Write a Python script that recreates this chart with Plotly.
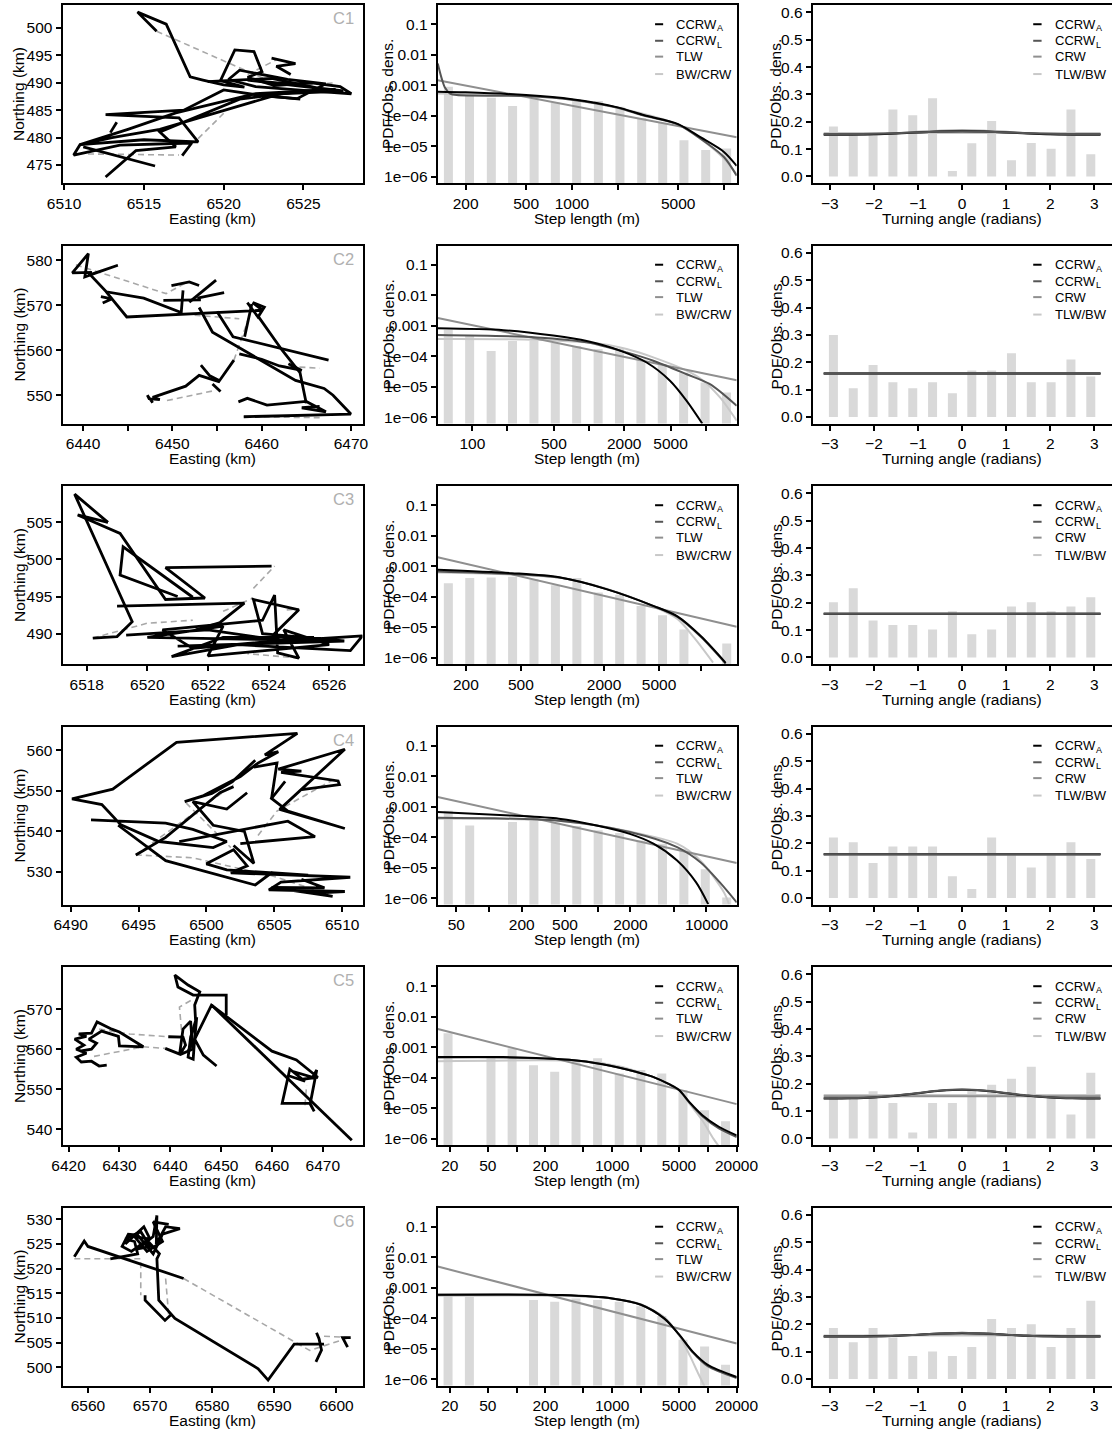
import plotly.graph_objects as go

# ---------------------------------------------------------------- styling
FONT = "Liberation Sans, Arial, Helvetica, sans-serif"
INK = "#000000"
COL_CCRW_A = "#000000"
COL_CCRW_L = "#555555"
COL_MID = "#8f8f8f"      # TLW (step panel) / CRW (angle panel)
COL_LIGHT = "#c8c8c8"    # BW/CRW (step panel) / TLW/BW (angle panel)
COL_BAR = "#d9d9d9"
COL_GAP = "#a8a8a8"
COL_TAG = "#b0b0b0"

FIG_W, FIG_H = 1112, 1435
COLS = [(62.5, 362.5), (437.7, 736.7), (812.7, 1111.5)]
TOP0, PITCH, BOX_H = 5.0, 240.5, 178.0

# ---------------------------------------------------------------- tracks (km)
C1_TRACK = [
    [(6515.8, 499.4), (6514.6, 502.9), (6516.4, 500.7), (6517.9, 491.1), (6518.7, 490.5), (6520.0, 489.6),
     (6521.3, 489.2), (6519.8, 490.4), (6520.7, 496.0), (6521.9, 495.7), (6522.4, 492.0), (6521.5, 491.0),
     (6523.2, 489.5), (6525.5, 490.0), (6527.3, 489.3), (6528.0, 488.0), (6525.0, 488.6), (6522.0, 489.3),
     (6520.3, 490.6), (6521.0, 492.3), (6524.0, 490.6), (6526.4, 489.8), (6524.6, 487.1), (6522.5, 487.6),
     (6520.0, 488.7), (6517.5, 485.0), (6512.6, 484.2), (6517.2, 483.6), (6518.4, 479.2), (6515.0, 479.6),
     (6511.0, 478.7), (6510.6, 476.8), (6513.5, 478.6), (6518.0, 479.0), (6517.4, 476.7)],
    [(6511.2, 478.3), (6515.7, 474.8)],
    [(6512.6, 472.8), (6514.5, 477.6), (6517.0, 478.3), (6516.0, 481.0), (6521.0, 487.0), (6525.0, 488.5),
     (6527.0, 488.8), (6522.0, 488.0), (6517.0, 484.5), (6514.0, 481.5), (6511.0, 478.7), (6513.0, 480.0),
     (6516.0, 481.5), (6523.0, 487.5), (6524.8, 487.0)],
    [(6519.0, 490.2), (6523.0, 490.8), (6526.0, 489.0), (6524.0, 489.8), (6521.5, 490.5), (6527.5, 488.5),
     (6523.5, 488.0)],
    [(6513.3, 482.8), (6512.9, 480.9)],
    [(6523.0, 494.5), (6524.5, 493.5), (6523.3, 493.0), (6524.2, 491.5)],
]
C1_GAPS = [
    [(6515.8, 499.4), (6520.4, 493.5), (6522.5, 490.8)],
    [(6511.5, 477.0), (6517.2, 476.8)],
    [(6518.4, 479.8), (6520.2, 485.0)],
    [(6521.5, 491.5), (6523.3, 494.2)],
    [(6525.2, 489.6), (6527.0, 490.0)],
]

C2_TRACK = [
    [(6441.0, 577.3), (6438.8, 577.2), (6440.6, 581.5), (6440.2, 576.3), (6443.9, 578.9), (6440.8, 576.8),
     (6442.6, 573.0), (6446.8, 571.6), (6451.0, 568.4), (6451.2, 573.3)],
    [(6442.6, 573.0), (6444.9, 567.4), (6460.1, 568.9), (6459.0, 570.6), (6460.3, 569.6), (6459.6, 567.4),
     (6458.4, 570.6)],
    [(6449.0, 571.1), (6453.2, 571.2)],
    [(6449.9, 574.4), (6451.9, 575.2), (6453.0, 574.4)],
    [(6451.9, 570.7), (6454.9, 575.6)],
    [(6452.8, 571.6), (6455.8, 572.8)],
    [(6442.0, 571.9), (6443.2, 571.4), (6442.2, 570.5)],
    [(6453.0, 569.5), (6454.5, 564.0), (6463.8, 553.3), (6467.0, 551.5), (6468.0, 550.0), (6470.0, 545.8),
     (6458.0, 545.2)],
    [(6455.0, 568.6), (6456.8, 563.0), (6467.5, 557.8)],
    [(6459.6, 567.6), (6462.3, 560.0), (6464.3, 555.0), (6465.0, 548.2)],
    [(6457.4, 548.5), (6458.4, 549.3), (6460.6, 547.8), (6465.0, 548.6), (6467.2, 546.3), (6464.5, 547.2),
     (6466.5, 547.5)],
    [(6458.9, 570.3), (6458.1, 563.0)],
    [(6447.8, 548.3), (6447.2, 550.0), (6447.4, 549.2), (6448.6, 549.0), (6447.8, 549.5), (6451.5, 552.0),
     (6453.0, 554.4), (6455.2, 553.0), (6456.9, 557.8)],
    [(6453.2, 556.7), (6454.2, 554.3), (6455.3, 553.2)],
    [(6454.5, 552.5), (6455.4, 550.8)],
    [(6457.5, 559.2), (6460.0, 558.0), (6462.0, 556.5), (6464.5, 555.5), (6463.0, 557.0)],
]
C2_GAPS = [
    [(6439.2, 579.0), (6449.3, 572.6), (6451.8, 575.3)],
    [(6449.4, 548.8), (6454.9, 551.1)],
    [(6456.9, 557.8), (6458.6, 567.4)],
    [(6458.0, 545.2), (6466.5, 545.0)],
    [(6462.0, 556.5), (6466.5, 556.0)],
    [(6452.5, 567.8), (6457.5, 567.0)],
]

C3_TRACK = [
    [(6518.7, 505.0), (6517.6, 508.8), (6519.5, 491.6), (6519.0, 489.6), (6518.2, 489.4)],
    [(6518.7, 505.0), (6517.7, 506.0), (6519.1, 503.5), (6520.6, 494.6), (6521.9, 494.8), (6520.6, 498.9),
     (6524.1, 499.1)],
    [(6521.5, 494.9), (6519.2, 501.7), (6519.1, 497.9), (6521.0, 495.0)],
    [(6519.0, 493.7), (6523.2, 494.1), (6522.4, 491.5), (6521.6, 490.5)],
    [(6519.3, 489.8), (6522.0, 490.5), (6524.5, 489.0), (6527.1, 489.7), (6526.7, 487.7), (6523.0, 488.5),
     (6520.8, 486.9), (6522.5, 489.5), (6525.5, 489.5), (6521.5, 488.0), (6520.5, 490.5), (6523.8, 491.8),
     (6524.2, 495.2), (6524.3, 487.4), (6525.0, 486.7), (6524.5, 490.5), (6526.0, 488.5), (6522.0, 487.0),
     (6522.5, 491.0), (6520.0, 489.5), (6524.0, 489.2), (6525.0, 493.2), (6523.5, 494.6), (6523.8, 490.0),
     (6526.5, 489.0), (6521.0, 488.3)],
]
C3_GAPS = [
    [(6518.2, 489.4), (6520.0, 491.4), (6521.5, 491.8)],
    [(6523.5, 496.1), (6524.2, 499.1)],
    [(6522.5, 493.0), (6523.5, 494.8)],
    [(6525.0, 486.7), (6523.3, 487.3)],
    [(6524.6, 493.2), (6525.0, 493.3)],
]

C4_TRACK = [
    [(6491.5, 542.8), (6497.0, 542.0), (6499.0, 540.5), (6501.5, 537.5), (6500.5, 536.0), (6496.5, 537.5),
     (6493.7, 541.6), (6492.3, 546.6), (6490.1, 548.0), (6493.1, 550.4), (6497.8, 561.9), (6506.7, 564.1),
     (6504.3, 558.8), (6505.3, 559.6), (6503.8, 556.8), (6502.5, 553.5), (6499.8, 548.8), (6498.4, 547.3),
     (6500.4, 549.3), (6501.9, 552.2), (6503.6, 557.5)],
    [(6494.8, 534.2), (6497.0, 538.5), (6501.0, 549.5), (6502.0, 551.0)],
    [(6505.8, 552.3), (6504.8, 548.1), (6506.0, 545.0), (6510.2, 540.7), (6505.4, 545.4), (6510.2, 560.2),
     (6505.3, 555.3), (6507.0, 554.8), (6505.5, 554.5), (6509.7, 552.4), (6509.8, 551.5), (6506.9, 550.2)],
    [(6504.8, 548.1), (6505.2, 556.8), (6503.5, 555.8)],
    [(6502.5, 537.0), (6508.0, 538.7), (6506.0, 542.5), (6498.0, 537.5)],
    [(6493.5, 541.5), (6497.0, 532.8), (6503.6, 526.8), (6504.8, 529.8), (6507.5, 529.2), (6501.5, 530.5),
     (6500.0, 532.0), (6502.0, 535.5), (6503.0, 531.5), (6501.8, 529.8), (6510.6, 528.7), (6505.5, 527.5),
     (6504.6, 525.6), (6510.2, 525.2), (6508.0, 524.8), (6509.3, 524.0), (6504.8, 526.2), (6508.7, 526.1),
     (6507.0, 528.2)],
    [(6502.0, 536.5), (6503.5, 532.1), (6502.8, 540.0), (6500.5, 541.5), (6499.0, 547.3), (6501.5, 545.5),
     (6503.0, 549.5)],
]
C4_GAPS = [
    [(6494.8, 534.2), (6502.0, 551.5)],
    [(6494.8, 534.2), (6499.0, 533.5), (6503.5, 530.0)],
    [(6503.8, 539.0), (6505.2, 545.0), (6509.5, 553.0)],
    [(6504.0, 530.0), (6509.0, 524.5)],
    [(6498.5, 547.0), (6501.8, 536.0)],
]

C5_TRACK = [
    [(6427.5, 556.0), (6426.0, 555.8), (6424.5, 557.0), (6422.5, 556.8), (6421.5, 558.0), (6423.5, 559.0),
     (6421.5, 560.0), (6423.0, 561.0), (6421.2, 562.5), (6423.5, 563.2), (6422.0, 563.8), (6424.5, 564.0),
     (6425.6, 566.8), (6428.5, 565.0), (6430.0, 564.3), (6434.7, 560.6), (6430.0, 560.8), (6429.8, 563.2),
     (6426.5, 564.5), (6424.0, 562.5), (6425.5, 561.5), (6424.5, 560.0), (6422.2, 559.5)],
    [(6449.1, 555.8), (6446.5, 558.5), (6444.8, 562.5), (6445.2, 568.0), (6444.0, 563.0), (6443.5, 558.0),
     (6444.5, 557.5), (6445.0, 566.5), (6444.8, 571.0), (6445.8, 574.3), (6443.5, 576.0), (6440.9, 578.5),
     (6441.5, 575.5), (6444.5, 573.5), (6451.0, 573.5), (6451.0, 568.5)],
    [(6439.6, 563.1), (6442.5, 563.0), (6443.0, 561.0), (6441.8, 558.5), (6442.5, 565.0), (6444.0, 567.0),
     (6444.4, 560.0), (6442.0, 558.7), (6439.0, 560.2)],
    [(6443.5, 559.5), (6445.0, 563.0), (6448.1, 571.0), (6460.0, 559.5), (6464.8, 557.3), (6469.0, 553.0),
     (6466.0, 552.5), (6463.5, 555.0), (6462.0, 546.5), (6467.5, 546.5), (6468.3, 544.5), (6467.5, 546.3),
     (6468.8, 554.8), (6468.0, 553.0), (6464.0, 554.5), (6466.5, 552.0), (6463.0, 553.5)],
    [(6448.1, 571.0), (6475.7, 537.3)],
]
C5_GAPS = [
    [(6425.0, 558.2), (6430.0, 559.5), (6434.7, 560.6), (6439.0, 560.2)],
    [(6426.0, 565.0), (6432.0, 563.8), (6439.6, 563.1)],
    [(6442.2, 564.8), (6441.8, 570.5), (6444.5, 572.5)],
    [(6466.5, 546.0), (6466.8, 551.0)],
]

C6_TRACK = [
    [(6563.6, 522.0), (6568.0, 523.0), (6567.5, 525.5), (6566.0, 526.0), (6568.5, 527.5), (6570.0, 524.5),
     (6568.0, 524.0), (6570.5, 526.5), (6571.1, 530.8), (6571.0, 525.0), (6572.5, 528.5), (6574.8, 528.1),
     (6572.0, 527.0), (6570.5, 523.0), (6568.0, 526.8), (6566.5, 527.0), (6565.5, 524.5), (6567.0, 523.5),
     (6569.5, 525.8), (6571.5, 523.0), (6571.1, 522.0), (6571.4, 513.6), (6574.0, 509.9), (6587.4, 499.7),
     (6589.0, 497.4), (6593.2, 504.7), (6598.0, 504.7)],
    [(6566.0, 525.0), (6569.0, 528.5), (6570.0, 526.0), (6567.5, 526.5), (6569.5, 523.5), (6572.0, 525.5),
     (6570.5, 529.5), (6573.0, 529.0)],
    [(6557.8, 522.4), (6559.4, 525.6), (6560.0, 524.5), (6575.4, 518.0)],
    [(6569.2, 514.6), (6569.2, 513.6), (6572.4, 509.5), (6573.5, 510.8)],
    [(6596.7, 501.1), (6597.6, 503.5), (6597.2, 505.8), (6596.8, 507.0)],
    [(6601.8, 504.1), (6601.0, 506.0), (6602.3, 506.0)],
]
C6_GAPS = [
    [(6557.8, 522.0), (6564.0, 522.0), (6568.5, 522.0), (6568.5, 514.6)],
    [(6575.4, 518.0), (6595.7, 503.4), (6602.0, 506.0)],
    [(6572.5, 518.0), (6573.0, 510.5)],
    [(6598.0, 506.3), (6602.3, 506.0)],
]

TRACK_NAMES = ["C1", "C2", "C3", "C4", "C5", "C6"]
TRACKS = [C1_TRACK, C2_TRACK, C3_TRACK, C4_TRACK, C5_TRACK, C6_TRACK]
GAPS = [C1_GAPS, C2_GAPS, C3_GAPS, C4_GAPS, C5_GAPS, C6_GAPS]
EAST_RANGE = [[6509.9, 6528.7], [6437.7, 6471.3], [6517.2, 6527.1],
              [6489.4, 6511.5], [6418.8, 6477.8], [6555.9, 6604.2]]
NORTH_RANGE = [[471.7, 504.2], [543.7, 583.3], [485.9, 509.9],
               [522.0, 565.8], [536.1, 580.5], [496.3, 532.4]]
EAST_TICKS = [[6510, 6515, 6520, 6525],
              [6440, 6450, 6460, 6470],
              [6518, 6520, 6522, 6524, 6526],
              [6490, 6495, 6500, 6505, 6510],
              [6420, 6430, 6440, 6450, 6460, 6470],
              [6560, 6570, 6580, 6590, 6600]]
EAST_MINOR = [[], [6445, 6455, 6465], [], [], [], []]
NORTH_TICKS = [[475, 480, 485, 490, 495, 500],
               [550, 560, 570, 580],
               [490, 495, 500, 505],
               [530, 540, 550, 560],
               [540, 550, 560, 570],
               [500, 505, 510, 515, 520, 525, 530]]

# ---------------------------------------------------------------- step lengths (m) and densities
step_mid_1 = [154, 212, 295, 407, 564, 778, 1074, 1493, 2070, 2877, 3954, 5458, 7586, 10420]
step_den_1 = [9.1e-4, 4.5e-4, 3.9e-4, 2.1e-4, 3.7e-4, 2.75e-4, 3.5e-4, 3.1e-4, 2.0e-4, 8.3e-5, 5.9e-5,
              1.6e-5, 7.6e-6, 8.5e-6]
step_mid_2 = [62.2, 94.8, 144.9, 220.8, 337.3, 514.0, 783.4, 1197, 1824, 2786, 4246, 6471, 9886, 15070]
step_den_2 = [7.4e-4, 4.8e-4, 1.5e-4, 3.2e-4, 3.2e-4, 2.75e-4, 2.2e-4, 1.75e-4, 1.85e-4, 8.1e-5, 5.6e-5,
              2.95e-5, 1.4e-5, 6.6e-6]
step_mid_3 = [149.3, 213.3, 304.8, 435.5, 622.3, 889.2, 1271, 1816, 2594, 3707, 5297, 7568, 10810, 15450]
step_den_3 = [2.8e-4, 4.2e-4, 4.3e-4, 4.6e-4, 3.8e-4, 2.4e-4, 4.2e-4, 1.4e-4, 1.17e-4, 5.0e-5, 2.5e-5,
              8.5e-6, None, 2.95e-6]
step_mid_4 = [42.2, 66.4, 104.5, 164.4, 258.8, 407.4, 641.2, 1009, 1589, 2500, 3936, 6194, 9750, 15350]
step_den_4 = [7.4e-4, 2.45e-4, None, 3.2e-4, 3.5e-4, 3.0e-4, 2.35e-4, 1.7e-4, 1.4e-4, 7.9e-5, 6.2e-5,
              4.2e-5, 9.1e-6, 1.07e-6]
step_mid_5 = [19.2, 32.1, 54.0, 89.9, 150.3, 250.6, 418.8, 704.7, 1186, 1995, 3304, 5508, 9268, 15350]
step_den_5 = [2.9e-3, None, 4.4e-4, 9.3e-4, 2.6e-4, 1.6e-4, 3.9e-4, 4.4e-4, 1.4e-4, 1.8e-4, 1.4e-4,
              4.0e-5, 8.7e-6, 3.8e-6]
step_mid_6 = [19.2, 32.1, 54.0, 89.9, 150.3, 250.6, 418.8, 704.7, 1186, 1995, 3304, 5508, 9268, 15350]
step_den_6 = [6.0e-4, 5.0e-4, None, None, 4.0e-4, 3.5e-4, 4.5e-4, 4.0e-4, 3.5e-4, 2.5e-4, 1.2e-4,
              2.0e-5, 1.2e-5, 3.0e-6]

# fitted step-length PDFs: (step length, density) pairs per model
ccrw_a_step_1 = ([131, 200, 500, 1000, 2000, 3000, 5000, 7000, 10000, 12130],
                 [6.2e-4, 5.9e-4, 4.8e-4, 3.5e-4, 1.9e-4, 1.05e-4, 5.4e-5, 2.0e-5, 6.6e-6, 2.3e-6])
ccrw_l_step_1 = ([131, 139, 146, 158, 175, 500, 1000, 2000, 3000, 5000, 7000, 10000, 12130],
                 [5.2e-3, 1.7e-3, 8.5e-4, 5.4e-4, 4.8e-4, 4.5e-4, 3.4e-4, 1.85e-4, 1.0e-4, 5.2e-5, 1.8e-5,
                  4.5e-6, 1.1e-6])
tlw_step_1 = ([131, 12130], [1.48e-3, 2.0e-5])
bw_step_1 = ([131, 200, 500, 1000, 2000, 5000, 7000, 10000, 12130],
             [5.4e-4, 5.2e-4, 4.6e-4, 3.4e-4, 1.85e-4, 5.2e-5, 1.8e-5, 4.0e-6, 1.2e-6])

ccrw_a_step_2 = ([50.5, 185, 494, 955, 1845, 3119, 4943, 6871, 9354],
                 [8.3e-4, 7.2e-4, 4.8e-4, 3.2e-4, 1.55e-4, 6.3e-5, 1.6e-5, 3.5e-6, 6.3e-7])
ccrw_l_step_2 = ([50.5, 356, 955, 2104, 3556, 6871, 10890, 18450],
                 [5.0e-4, 4.2e-4, 2.9e-4, 1.35e-4, 7.2e-5, 2.6e-5, 1.23e-5, 2.4e-6])
tlw_step_2 = ([50.5, 18450], [1.8e-3, 1.66e-5])
bw_step_2 = ([50.5, 356, 1327, 2104, 3556, 6871, 9550, 13270, 18450],
             [3.7e-4, 3.5e-4, 2.5e-4, 1.74e-4, 9.3e-5, 3.4e-5, 1.6e-5, 4.5e-6, 7.8e-7])

ccrw_a_step_3 = ([125, 430, 946, 2080, 4581, 6792, 10070, 15170],
                 [7.8e-4, 6.0e-4, 4.4e-4, 1.8e-4, 5.0e-5, 2.3e-5, 5.1e-6, 6.9e-7])
ccrw_l_step_3 = ([125, 430, 946, 2080, 4581, 6792, 10070, 15170],
                 [6.8e-4, 5.6e-4, 4.3e-4, 1.8e-4, 5.0e-5, 2.2e-5, 4.8e-6, 6.5e-7])
tlw_step_3 = ([125, 18240], [2.0e-3, 1.05e-5])
bw_step_3 = ([125, 430, 946, 2080, 4581, 6792, 9000, 12300],
             [6.3e-4, 5.4e-4, 4.3e-4, 1.85e-4, 4.8e-5, 1.9e-5, 4.5e-6, 7.0e-7])

ccrw_a_step_4 = ([33.7, 161, 439, 977, 1972, 3251, 5370, 8000, 10370],
                 [6.8e-4, 5.2e-4, 4.1e-4, 2.45e-4, 1.3e-4, 6.2e-5, 1.74e-5, 3.4e-6, 6.5e-7])
ccrw_l_step_4 = ([33.7, 439, 1972, 5370, 8850, 13210, 18970],
                 [4.4e-4, 3.5e-4, 1.5e-4, 4.8e-5, 1.5e-5, 3.4e-6, 7.4e-7])
tlw_step_4 = ([33.7, 18970], [2.1e-3, 1.45e-5])
bw_step_4 = ([33.7, 439, 1972, 5370, 8850, 14450, 16100],
             [4.1e-4, 3.5e-4, 1.55e-4, 6.2e-5, 1.7e-5, 1.6e-6, 6.5e-7])

ccrw_a_step_5 = ([15.0, 72, 356, 793, 1766, 2636, 3936, 5012, 6368, 8790, 13090, 20090],
                 [4.8e-4, 4.8e-4, 3.9e-4, 2.8e-4, 1.6e-4, 1.1e-4, 6.2e-5, 4.0e-5, 1.66e-5, 6.0e-6, 2.5e-6,
                  1.3e-6])
ccrw_l_step_5 = ([15.0, 72, 356, 793, 1766, 2636, 3936, 5012, 6368, 8790, 13090, 20090],
                 [4.7e-4, 4.7e-4, 3.9e-4, 2.8e-4, 1.6e-4, 1.1e-4, 6.2e-5, 4.0e-5, 1.6e-5, 5.5e-6, 2.2e-6,
                  1.15e-6])
tlw_step_5 = ([15.0, 20090], [4.0e-3, 1.38e-5])
bw_step_5 = ([15.0, 356, 793, 1766, 3936, 5012, 6368, 8790, 11500, 13500],
             [3.5e-4, 3.7e-4, 3.0e-4, 1.7e-4, 6.3e-5, 4.0e-5, 1.5e-5, 4.0e-6, 1.0e-6, 5.0e-7])

ccrw_a_step_6 = ([15.0, 300, 1000, 2000, 3500, 5000, 7000, 10000, 20090],
                 [6.0e-4, 5.8e-4, 4.5e-4, 2.8e-4, 1.0e-4, 3.0e-5, 8.0e-6, 3.0e-6, 1.2e-6])
ccrw_l_step_6 = ([15.0, 300, 1000, 2000, 3500, 5000, 7000, 10000, 20090],
                 [5.9e-4, 5.7e-4, 4.5e-4, 2.8e-4, 1.0e-4, 3.0e-5, 7.5e-6, 2.7e-6, 1.1e-6])
tlw_step_6 = ([15.0, 20090], [5.0e-3, 1.5e-5])
bw_step_6 = ([15.0, 300, 1000, 2000, 3500, 5000, 6500, 8000, 9500],
             [5.5e-4, 5.5e-4, 4.5e-4, 2.9e-4, 1.1e-4, 2.8e-5, 6.0e-6, 1.5e-6, 5.0e-7])

STEP_MIDS = [step_mid_1, step_mid_2, step_mid_3, step_mid_4, step_mid_5, step_mid_6]
STEP_DENS = [step_den_1, step_den_2, step_den_3, step_den_4, step_den_5, step_den_6]
STEP_FITS = [
    [bw_step_1, tlw_step_1, ccrw_l_step_1, ccrw_a_step_1],
    [bw_step_2, tlw_step_2, ccrw_l_step_2, ccrw_a_step_2],
    [bw_step_3, tlw_step_3, ccrw_l_step_3, ccrw_a_step_3],
    [bw_step_4, tlw_step_4, ccrw_l_step_4, ccrw_a_step_4],
    [bw_step_5, tlw_step_5, ccrw_l_step_5, ccrw_a_step_5],
    [bw_step_6, tlw_step_6, ccrw_l_step_6, ccrw_a_step_6],
]
STEP_FIT_COLOURS = [COL_LIGHT, COL_MID, COL_CCRW_L, COL_CCRW_A]
STEP_LOG_RANGE = [[2.117, 4.084], [1.703, 4.266], [2.097, 4.261],
                  [1.528, 4.278], [1.175, 4.303], [1.175, 4.303]]
STEP_TICKS = [[200, 500, 1000, 5000],
              [100, 500, 2000, 5000],
              [200, 500, 2000, 5000],
              [50, 200, 500, 2000, 10000],
              [20, 50, 200, 1000, 5000, 20000],
              [20, 50, 200, 1000, 5000, 20000]]
STEP_MINOR = [[2000, 10000],
              [200, 1000, 10000],
              [1000, 10000],
              [100, 1000, 5000],
              [100, 500, 2000, 10000],
              [100, 500, 2000, 10000]]
DENS_TICKS = [0.1, 0.01, 0.001, 1e-4, 1e-5, 1e-6]
DENS_LABELS = ["0.1", "0.01", "0.001", "1e\u221204", "1e\u221205", "1e\u221206"]

# ---------------------------------------------------------------- turning angles (radians)
angle_mid = [-2.92, -2.47, -2.02, -1.57, -1.12, -0.67, -0.22, 0.22, 0.67, 1.12, 1.57, 2.02, 2.47, 2.92]
angle_den_1 = [0.183, 0.156, 0.156, 0.245, 0.224, 0.286, 0.020, 0.121, 0.203, 0.059, 0.122, 0.101, 0.245, 0.081]
angle_den_2 = [0.300, 0.105, 0.190, 0.127, 0.105, 0.127, 0.087, 0.170, 0.170, 0.233, 0.127, 0.127, 0.210, 0.148]
angle_den_3 = [0.202, 0.253, 0.135, 0.119, 0.119, 0.102, 0.169, 0.085, 0.102, 0.186, 0.202, 0.169, 0.186, 0.220]
angle_den_4 = [0.221, 0.204, 0.128, 0.188, 0.188, 0.188, 0.079, 0.033, 0.221, 0.160, 0.111, 0.160, 0.204, 0.142]
angle_den_5 = [0.157, 0.157, 0.173, 0.130, 0.022, 0.130, 0.130, 0.175, 0.196, 0.218, 0.262, 0.157, 0.088, 0.240]
angle_den_6 = [0.186, 0.134, 0.186, 0.152, 0.084, 0.100, 0.084, 0.117, 0.219, 0.186, 0.200, 0.117, 0.186, 0.286]

angle_grid = [-3.14, -2.5, -2.0, -1.5, -1.0, -0.5, 0.0, 0.5, 1.0, 1.5, 2.0, 2.5, 3.14]
angle_ends = [-3.14, 3.14]

ccrw_a_turn_1 = [0.153, 0.153, 0.154, 0.157, 0.161, 0.164, 0.165, 0.164, 0.161, 0.157, 0.154, 0.153, 0.153]
ccrw_l_turn_1 = [0.155, 0.155, 0.156, 0.158, 0.161, 0.163, 0.164, 0.163, 0.161, 0.158, 0.156, 0.155, 0.155]
crw_turn_1 = [0.152, 0.152, 0.154, 0.158, 0.163, 0.167, 0.169, 0.167, 0.163, 0.158, 0.154, 0.152, 0.152]
uniform_turn_1 = [0.159, 0.159]

ccrw_a_turn_2 = [0.159, 0.159]
ccrw_l_turn_2 = [0.159, 0.159]
crw_turn_2 = [0.159, 0.159]
uniform_turn_2 = [0.159, 0.159]

ccrw_a_turn_3 = [0.160, 0.160]
ccrw_l_turn_3 = [0.160, 0.160]
crw_turn_3 = [0.160, 0.160]
uniform_turn_3 = [0.159, 0.159]

ccrw_a_turn_4 = [0.160, 0.160]
ccrw_l_turn_4 = [0.160, 0.160]
crw_turn_4 = [0.160, 0.160]
uniform_turn_4 = [0.159, 0.159]

ccrw_a_turn_5 = [0.146, 0.147, 0.150, 0.156, 0.165, 0.174, 0.178, 0.174, 0.165, 0.156, 0.150, 0.147, 0.146]
ccrw_l_turn_5 = [0.147, 0.148, 0.151, 0.157, 0.166, 0.175, 0.179, 0.175, 0.166, 0.157, 0.151, 0.148, 0.147]
crw_turn_5 = [0.154, 0.154]
uniform_turn_5 = [0.159, 0.159]

ccrw_a_turn_6 = [0.155, 0.155, 0.156, 0.158, 0.162, 0.166, 0.168, 0.166, 0.162, 0.158, 0.156, 0.155, 0.155]
ccrw_l_turn_6 = [0.154, 0.154, 0.155, 0.158, 0.162, 0.166, 0.169, 0.166, 0.162, 0.158, 0.155, 0.154, 0.154]
crw_turn_6 = [0.157, 0.157, 0.158, 0.159, 0.161, 0.163, 0.164, 0.163, 0.161, 0.159, 0.158, 0.157, 0.157]
uniform_turn_6 = [0.159, 0.159]

ANGLE_DENS = [angle_den_1, angle_den_2, angle_den_3, angle_den_4, angle_den_5, angle_den_6]
ANGLE_FITS = [
    [uniform_turn_1, crw_turn_1, ccrw_a_turn_1, ccrw_l_turn_1],
    [uniform_turn_2, crw_turn_2, ccrw_a_turn_2, ccrw_l_turn_2],
    [uniform_turn_3, crw_turn_3, ccrw_a_turn_3, ccrw_l_turn_3],
    [uniform_turn_4, crw_turn_4, ccrw_a_turn_4, ccrw_l_turn_4],
    [uniform_turn_5, crw_turn_5, ccrw_a_turn_5, ccrw_l_turn_5],
    [uniform_turn_6, crw_turn_6, ccrw_a_turn_6, ccrw_l_turn_6],
]
ANGLE_FIT_COLOURS = [COL_LIGHT, COL_MID, COL_CCRW_A, COL_CCRW_L]
ANGLE_TICKS = [-3, -2, -1, 0, 1, 2, 3]
ANGLE_LABELS = ["\u22123", "\u22122", "\u22121", "0", "1", "2", "3"]
TURN_DENS_TICKS = [0.0, 0.1, 0.2, 0.3, 0.4, 0.5, 0.6]
TURN_DENS_LABELS = ["0.0", "0.1", "0.2", "0.3", "0.4", "0.5", "0.6"]

# legend entries: (name, subscript)
STEP_LEGEND = [("CCRW", "A"), ("CCRW", "L"), ("TLW", ""), ("BW/CRW", "")]
TURN_LEGEND = [("CCRW", "A"), ("CCRW", "L"), ("CRW", ""), ("TLW/BW", "")]
LEGEND_COLOURS = [COL_CCRW_A, COL_CCRW_L, COL_MID, COL_LIGHT]


# ---------------------------------------------------------------- helpers
def axis_id(letter, k):
    return letter if k == 1 else f"{letter}{k}"


def flatten(segments):
    xs, ys = [], []
    for seg in segments:
        for x, y in seg:
            xs.append(x)
            ys.append(y)
        xs.append(None)
        ys.append(None)
    return xs, ys


def stems(centres, heights, base):
    xs, ys = [], []
    for c, h in zip(centres, heights):
        if h is None:
            continue
        xs += [c, c, None]
        ys += [base, h, None]
    return xs, ys


def domains(r, c):
    x0, x1 = COLS[c]
    top = TOP0 + PITCH * r
    return [x0 / FIG_W, x1 / FIG_W], [1 - (top + BOX_H) / FIG_H, 1 - top / FIG_H]


def axis_style(minor_vals=None):
    style = dict(showline=True, linecolor=INK, linewidth=2, mirror=True,
                 ticks="outside", ticklen=5, tickwidth=1.5, tickcolor=INK,
                 showgrid=False, zeroline=False, tickangle=0, fixedrange=True,
                 tickfont=dict(family=FONT, size=15.5, color=INK))
    if minor_vals:
        style["minor"] = dict(tickmode="array", tickvals=minor_vals, ticks="outside",
                              ticklen=5, tickwidth=1.5, tickcolor=INK, showgrid=False)
    return style


fig = go.Figure()
layout = dict(width=FIG_W, height=FIG_H, margin=dict(l=0, r=0, t=0, b=0),
              paper_bgcolor="white", plot_bgcolor="white", showlegend=False,
              template="none", font=dict(family=FONT, color=INK))
annotations = []
shapes = []


def add_axis_titles(r, c, xtitle, ytitle, ytitle_x):
    x0, x1 = COLS[c]
    top = TOP0 + PITCH * r
    annotations.append(dict(text=xtitle, xref="paper", yref="paper",
                            x=(x0 + x1) / 2 / FIG_W, y=1 - (top + BOX_H + 35) / FIG_H,
                            xanchor="center", yanchor="middle", showarrow=False,
                            font=dict(family=FONT, size=15.5, color=INK)))
    annotations.append(dict(text=ytitle, xref="paper", yref="paper", textangle=-90,
                            x=ytitle_x / FIG_W, y=1 - (top + BOX_H / 2) / FIG_H,
                            xanchor="center", yanchor="middle", showarrow=False,
                            font=dict(family=FONT, size=15.5, color=INK)))


def add_legend(k, c, entries, line_x, text_x):
    rows_y = [0.892, 0.799, 0.710, 0.612]
    width_px = COLS[c][1] - COLS[c][0]
    xr, yr = axis_id("x", k) + " domain", axis_id("y", k) + " domain"
    for (name, sub), col, yy in zip(entries, LEGEND_COLOURS, rows_y):
        shapes.append(dict(type="line", xref=xr, yref=yr,
                           x0=line_x[0], x1=line_x[1], y0=yy, y1=yy,
                           line=dict(color=col, width=2)))
        annotations.append(dict(text=name, xref=xr, yref=yr,
                                x=text_x, y=yy, xanchor="left", yanchor="middle",
                                showarrow=False, font=dict(family=FONT, size=13, color=INK)))
        if sub:
            # subscript letter set just after the model name, slightly lowered
            annotations.append(dict(text=sub, xref=xr, yref=yr,
                                    x=text_x + 40.6 / width_px, y=yy - 4.0 / BOX_H,
                                    xanchor="left", yanchor="middle", showarrow=False,
                                    font=dict(family=FONT, size=9, color=INK)))


for r in range(6):
    # ---------------- track panel
    k = 3 * r + 1
    xa, ya = axis_id("x", k), axis_id("y", k)
    xd, yd = domains(r, 0)
    gx, gy = flatten(GAPS[r])
    fig.add_trace(go.Scatter(x=gx, y=gy, mode="lines", xaxis=xa, yaxis=ya,
                             line=dict(color=COL_GAP, width=1.6, dash="6px,4px"),
                             hoverinfo="skip"))
    tx, ty = flatten(TRACKS[r])
    fig.add_trace(go.Scatter(x=tx, y=ty, mode="lines", xaxis=xa, yaxis=ya,
                             line=dict(color=INK, width=2.8), hoverinfo="skip"))
    ax = axis_style(EAST_MINOR[r])
    ax.update(domain=xd, range=EAST_RANGE[r], anchor=ya,
              tickmode="array", tickvals=EAST_TICKS[r],
              ticktext=[str(v) for v in EAST_TICKS[r]])
    ay = axis_style()
    ay.update(domain=yd, range=NORTH_RANGE[r], anchor=xa,
              tickmode="array", tickvals=NORTH_TICKS[r],
              ticktext=[str(v) for v in NORTH_TICKS[r]])
    layout["xaxis" if k == 1 else f"xaxis{k}"] = ax
    layout["yaxis" if k == 1 else f"yaxis{k}"] = ay
    annotations.append(dict(text=TRACK_NAMES[r], xref=xa + " domain", yref=ya + " domain",
                            x=0.978, y=0.925, xanchor="right", yanchor="middle",
                            showarrow=False, font=dict(family=FONT, size=16.5, color=COL_TAG)))
    add_axis_titles(r, 0, "Easting (km)", "Northing (km)", 19)

    # ---------------- step-length panel
    k = 3 * r + 2
    xa, ya = axis_id("x", k), axis_id("y", k)
    xd, yd = domains(r, 1)
    bx, by = stems(STEP_MIDS[r], STEP_DENS[r], 1e-8)
    fig.add_trace(go.Scatter(x=bx, y=by, mode="lines", xaxis=xa, yaxis=ya,
                             line=dict(color=COL_BAR, width=9), hoverinfo="skip"))
    for (fx, fy), col in zip(STEP_FITS[r], STEP_FIT_COLOURS):
        fig.add_trace(go.Scatter(x=fx, y=fy, mode="lines", xaxis=xa, yaxis=ya,
                                 line=dict(color=col, width=2, shape="spline", smoothing=0.8),
                                 hoverinfo="skip"))
    ax = axis_style(STEP_MINOR[r])
    ax.update(domain=xd, type="log", range=STEP_LOG_RANGE[r], anchor=ya,
              tickmode="array", tickvals=STEP_TICKS[r],
              ticktext=[str(v) for v in STEP_TICKS[r]])
    ay = axis_style()
    ay.update(domain=yd, type="log", range=[-6.2, -0.365], anchor=xa,
              tickmode="array", tickvals=DENS_TICKS, ticktext=DENS_LABELS)
    layout[f"xaxis{k}"] = ax
    layout[f"yaxis{k}"] = ay
    add_axis_titles(r, 1, "Step length (m)", "PDF/Obs. dens.", 388)
    add_legend(k, 1, STEP_LEGEND, (0.727, 0.754), 0.790)

    # ---------------- turning-angle panel
    k = 3 * r + 3
    xa, ya = axis_id("x", k), axis_id("y", k)
    xd, yd = domains(r, 2)
    bx, by = stems(angle_mid, ANGLE_DENS[r], 0.0)
    fig.add_trace(go.Scatter(x=bx, y=by, mode="lines", xaxis=xa, yaxis=ya,
                             line=dict(color=COL_BAR, width=9), hoverinfo="skip"))
    for fy, col in zip(ANGLE_FITS[r], ANGLE_FIT_COLOURS):
        fx = angle_grid if len(fy) == len(angle_grid) else angle_ends
        fig.add_trace(go.Scatter(x=fx, y=fy, mode="lines", xaxis=xa, yaxis=ya,
                                 line=dict(color=col, width=2, shape="spline", smoothing=0.8),
                                 hoverinfo="skip"))
    ax = axis_style()
    ax.update(domain=xd, range=[-3.39, 3.39], anchor=ya,
              tickmode="array", tickvals=ANGLE_TICKS, ticktext=ANGLE_LABELS)
    ay = axis_style()
    ay.update(domain=yd, range=[-0.024, 0.627], anchor=xa,
              tickmode="array", tickvals=TURN_DENS_TICKS, ticktext=TURN_DENS_LABELS)
    layout[f"xaxis{k}"] = ax
    layout[f"yaxis{k}"] = ay
    add_axis_titles(r, 2, "Turning angle (radians)", "PDF/Obs. dens.", 776)
    add_legend(k, 2, TURN_LEGEND, (0.738, 0.766), 0.805)

layout["annotations"] = annotations
layout["shapes"] = shapes
fig.update_layout(**layout)
fig.write_html("out.html")
